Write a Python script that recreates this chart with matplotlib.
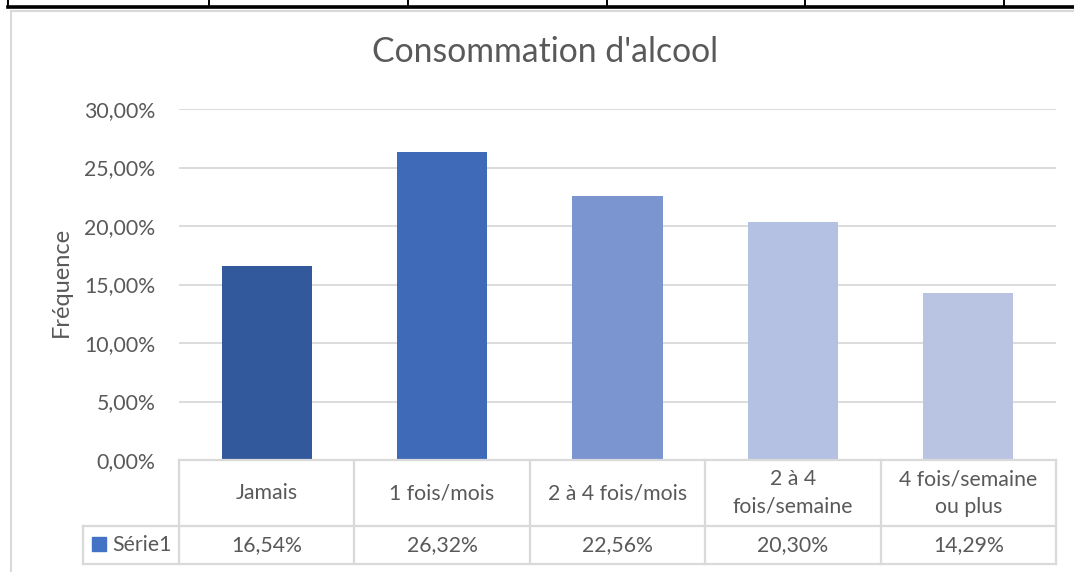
import matplotlib
matplotlib.use("Agg")
import matplotlib.pyplot as plt
from matplotlib.lines import Line2D
from matplotlib.patches import Rectangle
from matplotlib.ticker import FuncFormatter

categories = ["Jamais", "1 fois/mois", "2 à 4 fois/mois", "2 à 4\nfois/semaine", "4 fois/semaine\nou plus"]
values = [16.54, 26.32, 22.56, 20.30, 14.29]
series_name = "Série1"
bar_colors = ["#31599B", "#3E6AB7", "#7A95D0", "#B4C1E2", "#B9C4E3"]
title = "Consommation d'alcool"
ylabel = "Fréquence"

W, H = 1074, 572
plt.rcParams['font.family'] = ['Lato', 'DejaVu Sans']
txt = "#595959"
grid = "#D9D9D9"
fs = 15.3

fig = plt.figure(figsize=(W / 100, H / 100), dpi=100)

def fx(px):
    return px / W

def fy(py):
    return 1 - py / H

# word table border at the very top
fig.add_artist(Line2D([fx(8), 1], [fy(6.5), fy(6.5)], color="black", lw=2.6))
for x in [8, 209, 408, 607, 805, 1004]:
    fig.add_artist(Line2D([fx(x), fx(x)], [fy(0), fy(7)], color="black", lw=1.4))

# chart frame (only top and left visible)
fig.add_artist(Line2D([fx(11), 1], [fy(10.5), fy(10.5)], color=grid, lw=1.5))
fig.add_artist(Line2D([fx(11), fx(11)], [fy(10.5), 0], color=grid, lw=1.5))

# plot area
left, right, top, bottom = 179, 1056, 109, 460
ax = fig.add_axes([fx(left), fy(bottom), fx(right - left), (bottom - top) / H])
x = range(len(values))
ax.bar(x, values, width=0.515, color=bar_colors, zorder=3)
ax.set_xlim(-0.5, len(values) - 0.5)
ax.set_ylim(0, 30)
ax.set_yticks(range(0, 31, 5))
ax.yaxis.set_major_formatter(FuncFormatter(lambda v, p: f"{v:.2f}%".replace(".", ",")))
ax.grid(axis="y", color=grid, lw=1.3, zorder=0)
ax.set_xticks([])
for s in ax.spines.values():
    s.set_visible(False)
ax.tick_params(axis="y", length=0, pad=17, labelsize=fs, labelcolor=txt)
ax.set_ylabel(ylabel, fontsize=17, color=txt)
ax.yaxis.set_label_coords((72 - left) / (right - left), (bottom - 282) / (bottom - top))
fig.text(fx(545), fy(52), title, fontsize=24.3, color=txt, ha="center", va="center")

# data table under the axis
tab_top, row_mid, tab_bot = 460, 526, 564
tab = fig.add_axes([fx(left), fy(tab_bot), fx(right - left), (tab_bot - tab_top) / H])
tab.set_xlim(-0.5, len(values) - 0.5)
tab.set_ylim(tab_bot, tab_top)
tab.axis("off")
leg_x = -0.5 - (left - 83) / ((right - left) / len(values))
lw = 1.6
for i in range(len(values) + 1):
    tab.plot([i - 0.5, i - 0.5], [tab_top, tab_bot], color=grid, lw=lw, clip_on=False)
tab.plot([-0.5, len(values) - 0.5], [tab_top, tab_top], color=grid, lw=lw, clip_on=False)
tab.plot([leg_x, len(values) - 0.5], [row_mid, row_mid], color=grid, lw=lw, clip_on=False)
tab.plot([leg_x, len(values) - 0.5], [tab_bot, tab_bot], color=grid, lw=lw, clip_on=False)
tab.plot([leg_x, leg_x], [row_mid, tab_bot], color=grid, lw=lw, clip_on=False)
for i, (c, v) in enumerate(zip(categories, values)):
    tab.text(i, (tab_top + row_mid) / 2, c, ha="center", va="center", fontsize=fs,
             color=txt, linespacing=1.45, clip_on=False)
    tab.text(i, (row_mid + tab_bot) / 2, f"{v:.2f}%".replace(".", ","), ha="center",
             va="center", fontsize=fs, color=txt, clip_on=False)
unit = (right - left) / len(values)
tab.add_patch(Rectangle((leg_x + 9 / unit, 537), 14 / unit, 14, color="#4472C4", clip_on=False))
tab.text(leg_x + 29 / unit, (row_mid + tab_bot) / 2, series_name, ha="left", va="center",
         fontsize=fs, color=txt, clip_on=False)

fig.savefig("out.png", dpi=100)
